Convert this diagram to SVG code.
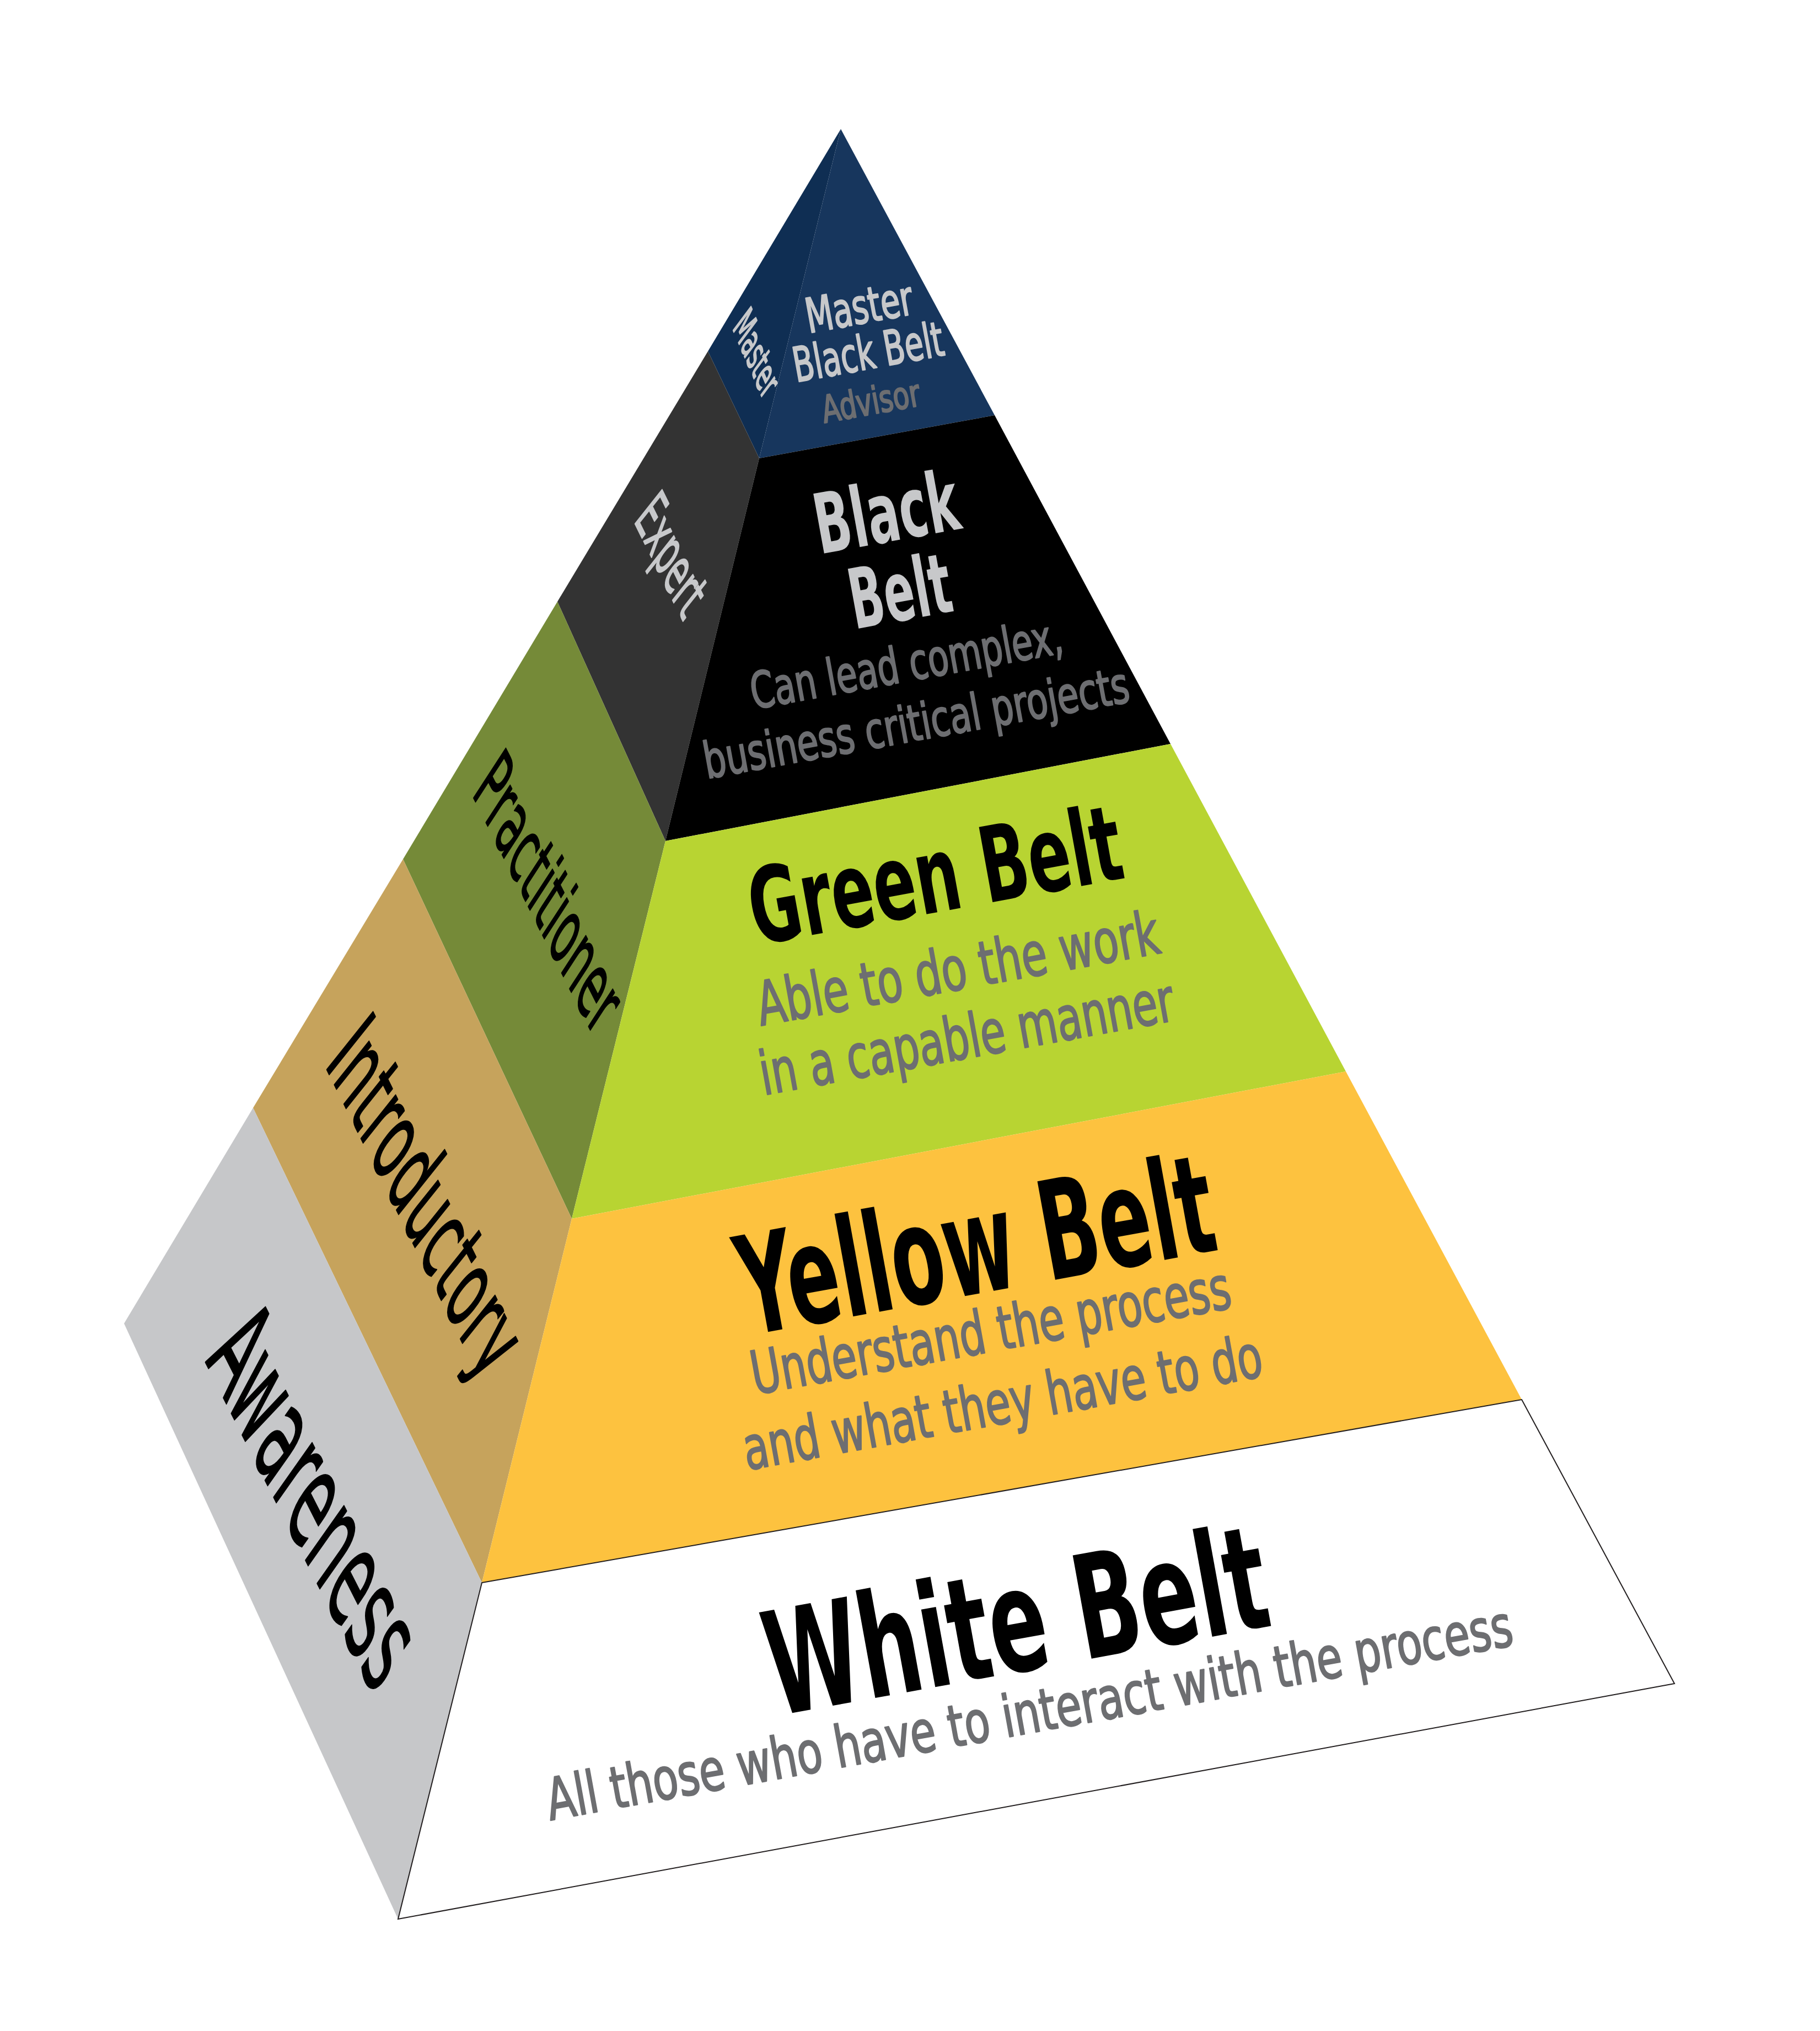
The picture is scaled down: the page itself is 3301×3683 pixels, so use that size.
<svg xmlns="http://www.w3.org/2000/svg" width="3301" height="3683" viewBox="0 0 3301 3683">
<style>
text { font-family: 'Liberation Sans Narrow','DejaVu Sans Condensed','Liberation Sans',sans-serif; }
.b { font-weight: bold; }
.lg { fill: #c7c8ca; }
.gr { fill: #6d6e71; }
.bk { fill: #000000; }
.med { stroke-width: 2.5; stroke-linejoin: round; }
.lg.med { stroke: #c7c8ca; }
.gr.med { stroke: #6d6e71; }
.bk.med { stroke: #000000; }
.edge { stroke: #231f20; stroke-width: 2; stroke-linejoin: miter; }
</style>
<rect width="3301" height="3683" fill="#ffffff"/>

<g id="master-black-belt">
  <polygon points="1525,234 1284,637 1377,831" fill="#0f2e53"/>
  <polygon points="1525,234 1377,831 1804,753" fill="#17365d"/>
  <text class="lg med" font-size="74" textLength="145" lengthAdjust="spacingAndGlyphs" transform="matrix(0.3955,0.9185,-0.5976,0.8018,1328,595)">Master</text>
  <text class="lg med" font-size="87" textLength="196" lengthAdjust="spacingAndGlyphs" transform="translate(1467,604) rotate(-10.3)">Master</text>
  <text class="lg med" font-size="87" textLength="276" lengthAdjust="spacingAndGlyphs" transform="translate(1444,693) rotate(-10.3)">Black Belt</text>
  <text class="gr med" font-size="68" textLength="180" lengthAdjust="spacingAndGlyphs" transform="translate(1495,767) rotate(-10.3)">Advisor</text>
</g>

<g id="black-belt">
  <polygon points="1284,637 1011,1091 1207,1525 1377,831" fill="#333333"/>
  <polygon points="1377,831 1804,753 2123,1349 1207,1525" fill="#000000"/>
  <text class="lg med" font-size="108" textLength="205" lengthAdjust="spacingAndGlyphs" transform="matrix(0.4415,0.8973,-0.6211,0.7837,1149,944)">Expert</text>
  <text class="lg b" font-size="151" textLength="264" lengthAdjust="spacingAndGlyphs" transform="translate(1487,1005) rotate(-10.3)">Black</text>
  <text class="lg b" font-size="151" textLength="186" lengthAdjust="spacingAndGlyphs" transform="translate(1550,1141) rotate(-10.3)">Belt</text>
  <text class="gr med" font-size="91" textLength="574" lengthAdjust="spacingAndGlyphs" transform="translate(1367,1286) rotate(-10.3)">Can lead complex,</text>
  <text class="gr med" font-size="91" textLength="783" lengthAdjust="spacingAndGlyphs" transform="translate(1282,1412) rotate(-10.3)">business critical projects</text>
</g>

<g id="green-belt">
  <polygon points="1011,1091 731,1558 1037,2210 1207,1525" fill="#758a38"/>
  <polygon points="1207,1525 2123,1349 2441,1943 1037,2210" fill="#b8d432"/>
  <text class="bk med" font-size="147" textLength="500" lengthAdjust="spacingAndGlyphs" transform="matrix(0.4493,0.8934,-0.5446,0.8387,855,1439)">Practitioner</text>
  <text class="bk b" font-size="190" textLength="684" lengthAdjust="spacingAndGlyphs" transform="translate(1371,1714) rotate(-10.3)">Green Belt</text>
  <text class="gr med" font-size="110" textLength="740" lengthAdjust="spacingAndGlyphs" transform="translate(1380,1860) rotate(-10.3)">Able to do the work</text>
  <text class="gr med" font-size="110" textLength="762" lengthAdjust="spacingAndGlyphs" transform="translate(1385,1986) rotate(-10.3)">in a capable manner</text>
</g>

<g id="yellow-belt">
  <polygon points="731,1558 459,2009 874,2870 1037,2210" fill="#c6a35c"/>
  <polygon points="1037,2210 2441,1943 2760,2538 874,2870" fill="#fdc23f"/>
  <text class="bk med" font-size="184" textLength="652" lengthAdjust="spacingAndGlyphs" transform="matrix(0.4446,0.8957,-0.6239,0.7815,588,1930)">Introductory</text>
  <text class="bk b" font-size="249" textLength="872" lengthAdjust="spacingAndGlyphs" transform="translate(1356,2422) rotate(-10.3)">Yellow Belt</text>
  <text class="gr med" font-size="109" textLength="883" lengthAdjust="spacingAndGlyphs" transform="translate(1369,2529) rotate(-10.3)">Understand the process</text>
  <text class="gr med" font-size="109" textLength="955" lengthAdjust="spacingAndGlyphs" transform="translate(1355,2666) rotate(-10.3)">and what they have to do</text>
</g>

<g id="white-belt">
  <polygon points="459,2009 225,2400 722,3480 874,2870" fill="#c6c7c9"/>
  <polygon class="edge" points="874,2870 2760,2538 3037,3053 722,3480" fill="#ffffff"/>
  <text class="bk med" font-size="221" textLength="684" lengthAdjust="spacingAndGlyphs" transform="matrix(0.4509,0.8926,-0.5764,0.8171,372,2469)">Awareness</text>
  <text class="bk b" font-size="261" textLength="920" lengthAdjust="spacingAndGlyphs" transform="translate(1406,3112) rotate(-10.3)">White Belt</text>
  <text class="gr med" font-size="105" textLength="1779" lengthAdjust="spacingAndGlyphs" transform="translate(998,3301) rotate(-10.3)">All those who have to interact with the process</text>
</g>

<g id="connectors"></g>
</svg>
